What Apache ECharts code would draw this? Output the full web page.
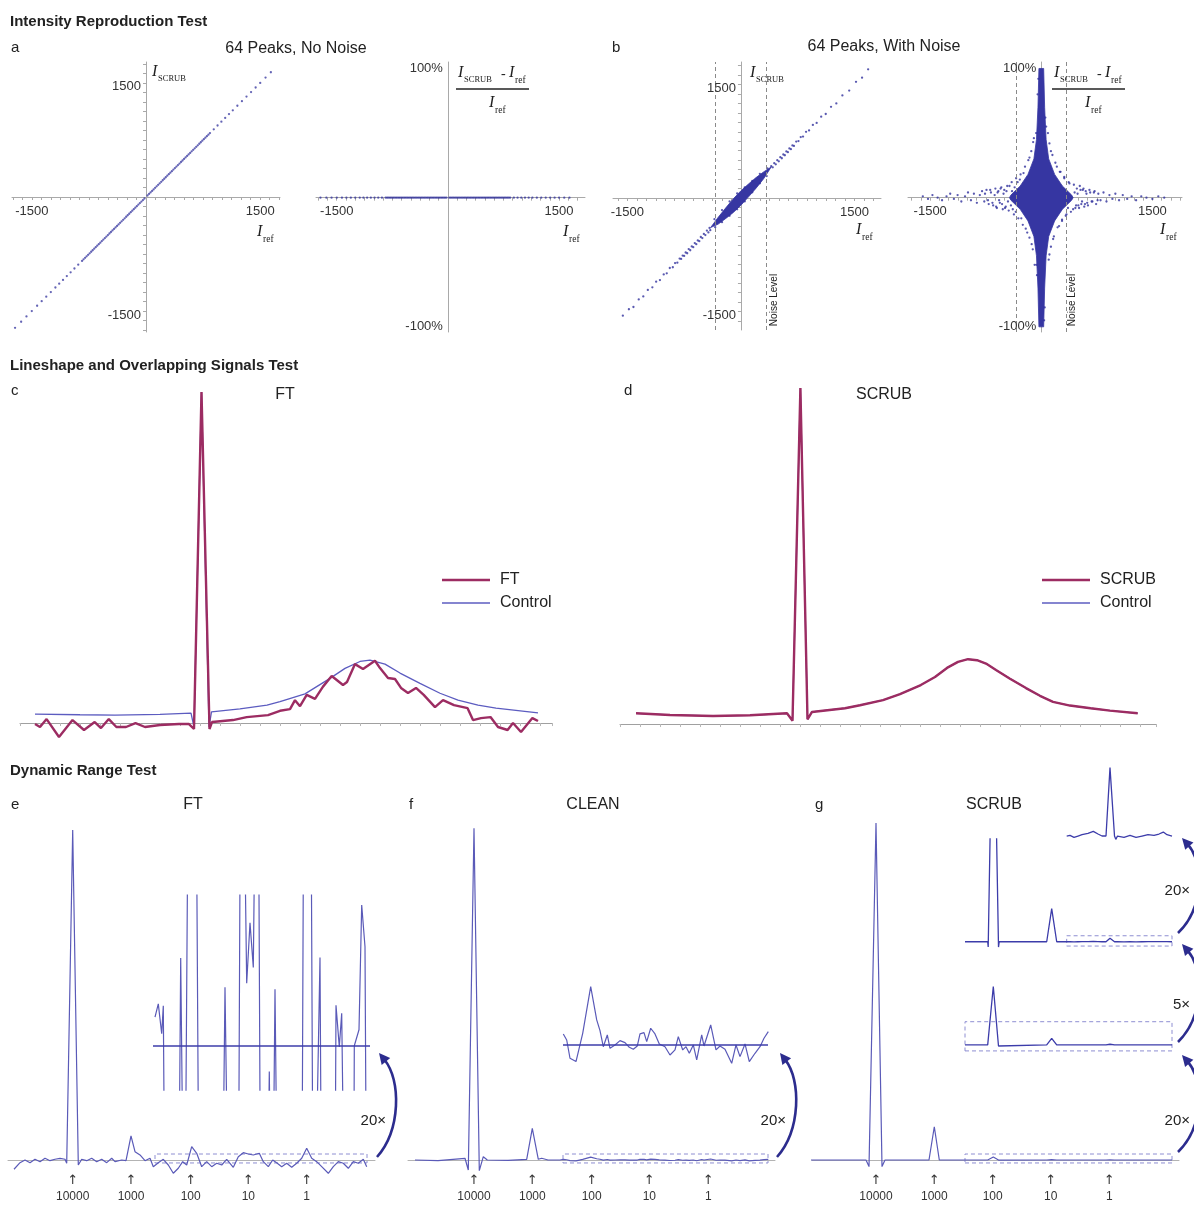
<!DOCTYPE html>
<html><head><meta charset="utf-8">
<script src="https://cdn.jsdelivr.net/npm/echarts@6.0.0/dist/echarts.min.js"></script>
<style>html,body{margin:0;padding:0;background:#fff}#c{width:1194px;height:1206px}</style>
</head><body><div id="c"></div>
<script>
// ---------------- DATA ----------------
// Panel a: 64 peaks, no noise — reference intensities and SCRUB intensities (identical)
const aRef = [-1720,-1640,-1570,-1500,-1430,-1370,-1310,-1250,-1190,-1140,-1090,-1040,-990,-940,-890,
 -840,-820,-800,-780,-760,-740,-720,-700,-680,-660,-640,-620,-600,-580,-560,-540,-520,-500,-480,-460,-440,-420,-400,-380,-360,-340,-320,-300,-280,-260,-240,-220,-200,-180,-160,-140,-120,-100,-80,-60,-40,-20,
 20,40,60,80,100,120,140,160,180,200,220,240,260,280,300,320,340,360,380,400,420,440,460,480,500,520,540,560,580,600,620,640,660,680,700,720,740,760,780,800,820,840,
 890,940,990,1040,1090,1140,1200,1260,1320,1380,1440,1500,1570,1640];
const aScrub = [-1720,-1640,-1570,-1500,-1430,-1370,-1310,-1250,-1190,-1140,-1090,-1040,-990,-940,-890,
 -840,-820,-800,-780,-760,-740,-720,-700,-680,-660,-640,-620,-600,-580,-560,-540,-520,-500,-480,-460,-440,-420,-400,-380,-360,-340,-320,-300,-280,-260,-240,-220,-200,-180,-160,-140,-120,-100,-80,-60,-40,-20,
 20,40,60,80,100,120,140,160,180,200,220,240,260,280,300,320,340,360,380,400,420,440,460,480,500,520,540,560,580,600,620,640,660,680,700,720,740,760,780,800,820,840,
 890,940,990,1040,1090,1140,1200,1260,1320,1380,1440,1500,1570,1640];
const axisTickLabels = [-1500, 1500];
const pctTickLabels = [-100, 100];

// Panel b (left): dense core outline (Iref, ISCRUB) and sparse points
const bCoreRef   = [-400,-300,-200,-100,0,100,200,300,400,300,200,100,0,-100,-200,-300];
const bCoreScrub = [-390,-255,-130,-10,95,185,270,345,410,255,130,15,-95,-190,-270,-345];
const bSparse = [[-1700,-1720],[-1560,-1555],[-1480,-1470],[-1420,-1440],[-1350,-1340],[-1290,-1300],[-1230,-1215],[-1170,-1180],[-1120,-1105],[-1070,-1085],[-1020,-1010],[-980,-995],[-940,-925],[-900,-915],[-870,-860],[-840,-855],[-810,-800],[-790,-805],[-770,-760],[-750,-765],[-730,-720],[-710,-730],[-690,-675],[-670,-690],[-650,-640],[-630,-650],[-610,-595],[-590,-610],[-570,-560],[-550,-570],[-530,-515],[-510,-530],[-490,-475],[-470,-490],[-450,-430],[-430,-455],[-415,-395],[-405,-425],
 [400,420],[420,405],[440,460],[460,445],[480,500],[500,485],[520,540],[540,525],[560,575],[580,565],[600,615],[620,605],[640,655],[660,645],[680,695],[700,688],[730,745],[760,752],[790,805],[820,812],[860,875],[900,893],[950,965],[1000,992],[1060,1075],[1120,1110],[1190,1205],[1260,1250],[1340,1355],[1430,1420],[1520,1535],[1600,1590],[1680,1700],
 [-350,-280],[-250,-160],[-150,-45],[-50,60],[50,140],[150,225],[250,320],[350,390],[-340,-385],[-250,-320],[-150,-235],[-50,-150],[50,-45],[150,75],[250,195],[340,290]];
// Panel b (right): relative error (%) — dense core outline and sparse points
const bRCoreRef = [-32,-45,-65,-100,-180,-285,-410,-430,-410,-285,-180,-100,-65,-45,-32,32,45,65,100,180,285,410,430,410,285,180,100,65,45,32];
const bRCoreErr = [100,70,45,30,18,9,2,0,-2,-9,-18,-30,-45,-70,-100,-100,-70,-45,-30,-18,-9,-2,0,2,9,18,30,45,70,100];
const bRSparse = [[-1600,1],[-1530,-1],[-1470,2],[-1400,0],[-1340,-2],[-1280,1],[-1230,3],[-1180,-1],[-1130,2],[-1080,-3],[-1030,1],[-990,4],[-950,-2],[-910,3],[-870,-4],[-830,2],[-800,5],[-770,-3],[-740,6],[-710,-5],[-680,4],[-650,-6],[-620,7],[-600,-8],[-580,5],[-560,-4],[-540,8],[-520,-9],[-500,6],[-480,-7],[-460,9],[-440,-10],
 [440,10],[460,-8],[480,7],[500,-6],[520,9],[540,-5],[560,6],[580,-7],[600,5],[620,-4],[650,6],[680,-3],[710,4],[740,-5],[770,3],[800,-2],[840,4],[880,-3],[920,2],[960,-1],[1000,3],[1050,-2],[1100,2],[1160,-1],[1220,1],[1280,-2],[1350,1],[1420,0],[1500,-1],[1580,1],[1660,0],
 [-400,12],[-370,-13],[-340,15],[-310,-16],[-280,18],[-250,-21],[-220,24],[-190,-27],[-160,31],[-130,-36],[-110,43],[-90,-52],[90,50],[110,-44],[130,36],[160,-32],[190,27],[220,-23],[250,20],[280,-17],[310,15],[340,-13],[370,12],[400,-11],
 [-760,3],[-720,-2],[-690,6],[-660,-4],[-630,2],[-610,-7],[-590,4],[-570,-2],[-550,7],[-530,-5],[-510,3],[-490,-8],[-470,5],[-450,-3],[-430,9],[-410,-6],[-395,5],[-385,-9],[-360,8],[-345,-11],[-320,12],[-290,14],[-270,-16],[-240,19],[-210,-24],[-175,29],[-160,-31],[-135,36],[-115,-40],[-100,46],
 [430,-9],[450,4],[470,-6],[490,3],[510,-8],[530,6],[550,-3],[570,7],[590,-5],[610,3],[630,-6],[660,4],[690,-3],[720,5],[760,-2],[360,-8],[380,11],[330,-14],[310,16],[280,-18],[260,20],[240,-22],[210,24],[170,-30],[150,33],[130,-38],[110,42],[100,-48],
 [-50,80],[46,-85],[55,62],[-58,-60],[66,55],[-70,50],[-66,-52],[-40,92],[38,-95]];
const bNoise = 340;

// Panel c: FT and Control (x = channel, y = % of tallest peak)
const cFT = [[15,-0.3],[20,-1.2],[26.6,1.2],[39,-4.2],[52.5,0.9],[64,-2.1],[74.7,0.3],[81,-1.5],[88.8,1.2],[96.4,-1.2],[106,-1.2],[115.5,0],[125,-1.2],[140,-0.6],[159,-0.3],[169,-0.3],[174,-1.8],[181.5,100],[189.5,-1.8],[192,0.3],[195,0.4],[213,0.9],[226.7,1.8],[248,2.4],[260,3.7],[270,4.2],[275,6.9],[280,5.1],[286.7,8.5],[295,7.3],[303,11.0],[311.7,14.2],[323,11.5],[327,12.4],[335,17.8],[343,16.3],[355,18.8],[360,16.6],[368,13.6],[375,13.3],[381,10.6],[388,9.1],[396,10.6],[403.7,8.5],[415,4.8],[423,6.9],[434,5.4],[447.6,4.5],[453,0.9],[461,1.5],[470.5,1.8],[478,-1.2],[487.6,-2.1],[493,0],[501,-2.7],[512.4,1.5],[518,0.6]];
const cControl = [[15,2.7],[60,2.5],[95,2.4],[140,2.6],[171,3.0],[174,-1.2],[181.5,100],[189,-1.2],[191.5,3.4],[220,4.3],[247,5.4],[260,6.5],[285,8.8],[310,13.5],[325,16.5],[340,18.6],[350,19.0],[365,17.8],[380,15.1],[400,12.0],[420,9.0],[438,6.9],[458,5.4],[476,4.5],[518,3.1]];
// Panel d: SCRUB and Control
const dScrub = [[16,3.2],[50,2.7],[93,2.4],[130,2.6],[167,3.2],[172.5,1.0],[180.4,100],[187.5,1.4],[192,3.6],[225,4.7],[240,5.6],[263,7.1],[280,8.9],[300.8,11.6],[315,14.0],[327,16.7],[338,18.5],[348,19.3],[357,19.0],[366,18.0],[376,16.1],[390,13.5],[406,10.7],[420,8.4],[433,6.6],[450,5.5],[470.6,4.7],[490,4.0],[517.7,3.2]];
const dControl = [[16,3.2],[50,2.7],[93,2.4],[130,2.6],[167,3.2],[172.5,1.0],[180.4,100],[187.5,1.4],[192,3.6],[225,4.7],[240,5.6],[263,7.1],[280,8.9],[300.8,11.6],[315,14.0],[327,16.7],[338,18.5],[348,19.3],[357,19.0],[366,18.0],[376,16.1],[390,13.5],[406,10.7],[420,8.4],[433,6.6],[450,5.5],[470.6,4.7],[490,4.0],[517.7,3.2]];

// Dynamic range panels (x = channel, y = intensity)
const peakLabels = ['10000','1000','100','10','1'];
const ePeakPos = [64.7,123,182.7,240.3,298.7];
const fPeakPos = [66,124.3,183.7,241.3,300.3];
const gPeakPos = [64,122.3,180.7,238.7,297.3];
const eFT = [[6,-280],[12,-81],[17,0],[22,-81],[27,21],[32,-51],[37,51],[42,-21],[47,21],[52,51],[57,21],[58.7,-99],[64.7,9940],[70.3,-151],[73.7,21],[78.7,-21],[83.7,51],[88.7,-51],[93.7,21],[98.7,-81],[103.7,51],[107,-51],[113.7,0],[118,-21],[123,723],[127,250],[132,151],[137,-21],[142,51],[145.3,-202],[150.3,-81],[155.3,21],[160.3,-151],[165.3,-401],[170.3,-250],[174.7,-51],[178.7,-151],[183.7,401],[188.7,202],[193.7,-202],[198.7,-51],[203.7,-202],[208.7,-99],[213.7,-151],[218.7,21],[225.3,-220],[230.3,99],[235.3,220],[240.3,181],[245.3,151],[251.3,202],[255.3,-51],[260.3,-202],[264.7,0],[269.3,-99],[273.7,-202],[278.7,-99],[283.7,-220],[288.7,-99],[293.7,51],[298.7,352],[303.7,51],[308.7,-51],[313.7,-202],[320.3,-401],[325.3,-202],[330.3,-51],[335.3,-99],[340.3,-250],[345.3,-51],[350.3,-99],[355.3,21],[358.7,-202]];
const eInset = [[147,43],[150.3,63],[153.7,18],[155.3,60],[157.5,-400],[170,-400],[172.7,132],[176.5,-400],[178.5,-400],[181.5,700],[187,700],[191.5,-400],[213.5,-400],[217,88],[221.5,-400],[230,-400],[233.3,700],[235.3,700],[238.7,94],[242,185],[245.3,118],[249.5,700],[251.3,700],[253,-400],[258.5,-400],[261.3,-39],[264,-400],[264.5,-400],[267,85],[270.5,-400],[293.5,-400],[296.5,700],[302,700],[305.5,-400],[306.5,-400],[312,133],[314,-400],[326.5,-400],[328,61],[331.3,-2],[333.7,49],[337.5,-400],[345.3,-400],[346.3,0],[351,24],[353.7,212],[357,149],[359,-400]];
const fHead = [[7,0],[30,-20],[57,51],[60.3,-301],[66,9990],[71.3,-322],[75.3,99],[79.3,0],[100,-10],[118.7,21],[124.3,955],[130.3,21],[133.7,51],[140,0],[152,0]];
const fTail = [[155.3,16.6],[158.7,7.5],[162,-20],[168,-25],[174.7,17.6],[182.7,87.8],[188.7,37.7],[192,21.5],[195.3,-2.6],[199.3,15.1],[202,-5],[207,0],[212,6.5],[217,3.5],[221.3,-3.5],[225.3,-6.5],[229.3,-1.5],[232,16.6],[236,18.5],[238.7,5],[242.7,25.2],[247,16.6],[251.3,1.5],[257,-2.6],[262,-15.1],[267,-7.5],[270.3,12.5],[274.7,-7.5],[278,-2.6],[281.3,-12.5],[285.3,0],[288.7,-22.6],[293.7,15.1],[296,-1.5],[302.7,30.1],[308,-7.5],[312,-1.5],[317,-6.5],[323.7,-27.6],[328,0],[332,-17.6],[337,1.5],[341.3,-25],[347,-12.5],[352,-2.6],[356,10.1],[360.3,20]];
const gSCRUB = [[-2,0],[54,0],[57,-200],[64,10150],[70,-200],[73,0],[117,0],[122.3,1000],[127.3,0],[153,0],[175.7,0],[176.2,-1.6],[181.3,88],[186.5,-1.6],[187.2,0],[234.7,0],[239.7,10],[244.7,0],[254.7,0],[258,0.01],[262,-0.02],[266,0],[270,0.02],[276,0.04],[281.3,0.07],[286,0.03],[290,0],[294,0],[298,1.03],[302.5,0],[303.8,-0.05],[305.5,0],[312,-0.02],[318,0.01],[324,-0.02],[330,0],[336,0.02],[342,0.01],[347,0.03],[351.3,0.06],[355,0.02],[360,0]];

// ---------------- STYLE ----------------
const FONT = '"Liberation Sans", Arial, Helvetica, sans-serif';
const SERIF = '"Liberation Serif", "DejaVu Serif", serif';
const AXC = '#a9a9a9';
const DOT = '#30309c';
const MAROON = '#9c2c62';
const CTRL = '#5c5cc0';
const SPEC = '#5a5ab8';
const BASE = '#3c3caa';
const DASH = '#8e8ed2';

function range(a,b,s){const r=[];for(let v=a;v<=b+1e-9;v+=s)r.push(Math.round(v*100)/100);return r;}

const grids = [
  {left:12,  top:62,  width:268, height:270},   //0 a-left
  {left:316, top:62,  width:269, height:270},   //1 a-right
  {left:613, top:62,  width:268, height:268},   //2 b-left
  {left:908, top:62,  width:274, height:270},   //3 b-right
  {left:20,  top:392, width:532, height:350.9}, //4 c
  {left:620, top:388, width:536, height:356.2}, //5 d
  {left:8,   top:814.7, width:367, height:365.2}, //6 e
  {left:8,   top:895, width:367, height:195.2}, //7 e inset
  {left:408, top:814.7, width:367, height:365.2}, //8 f
  {left:408, top:965.3, width:367, height:119.5}, //9 f inset
  {left:812, top:814.7, width:367, height:365.2}, //10 g
  {left:812, top:979.9, width:367, height:73},    //11 g inset 1 (20x)
  {left:812, top:838.8, width:367, height:112.9}, //12 g inset 2 (5x)
  {left:812, top:763,   width:367, height:86.3}   //13 g inset 3 (20x)
].map(g=>Object.assign({containLabel:false, outerBoundsMode:'none'}, g));

function scatAxis(gi, min, max, ticks){
  return {type:'value', gridIndex:gi, min, max, splitLine:{show:false},
    axisLine:{show:true, onZero:true, lineStyle:{color:AXC, width:1}},
    axisTick:{show:!!ticks, customValues:ticks||[], length:3, lineStyle:{color:AXC}},
    axisLabel:{show:false}};
}
function hidden(gi,min,max){ return {type:'value', gridIndex:gi, min, max, show:false, splitLine:{show:false}}; }
function specX(gi){
  return {type:'value', gridIndex:gi, min:0, max:367, splitLine:{show:false},
    axisLine:{show:true, onZero:true, lineStyle:{color:'#b3b3b3', width:1}}, axisTick:{show:false}, axisLabel:{show:false}};
}
function lineX(gi,max){
  return {type:'value', gridIndex:gi, min:0, max, interval:20, splitLine:{show:false},
    axisLine:{show:true, onZero:true, lineStyle:{color:'#a0a0a0', width:1}},
    axisTick:{show:true, length:3, lineStyle:{color:'#b8b8b8'}}, axisLabel:{show:false}};
}

const xAxis = [
  scatAxis(0,-1760,1760,range(-1750,1750,125)),
  scatAxis(1,-1780,1850,range(-1750,1750,125)),
  scatAxis(2,-1690,1850,range(-1625,1750,125)),
  scatAxis(3,-1800,1900,range(-1750,1875,125)),
  lineX(4,532), lineX(5,536),
  specX(6), hidden(7,0,367),
  specX(8), hidden(9,0,367),
  specX(10), hidden(11,0,367), hidden(12,0,367), hidden(13,0,367)
];
const yAxis = [
  scatAxis(0,-1775,1775,range(-1750,1750,125)),
  scatAxis(1,-104,105,null),
  scatAxis(2,-1744,1797,range(-1625,1750,125)),
  scatAxis(3,-104,105,null),
  hidden(4,-6,100), hidden(5,-6,100),
  hidden(6,-600,10400), hidden(7,-67,227),
  hidden(8,-600,10400), hidden(9,-60,120),
  hidden(10,-600,10400), hidden(11,-12,98), hidden(12,-3,31), hidden(13,-0.2,1.1)
];

function polygonSeries(xs, ys, gi, color){
  return {type:'custom', coordinateSystem:'cartesian2d', xAxisIndex:gi, yAxisIndex:gi, silent:true, clip:true, z:2,
    data: xs.map((x,i)=>[x, ys[i]]), encode:{x:0, y:1},
    renderItem: function(params, api){
      if (params.dataIndex !== 0) return null;
      const pts = xs.map((x,i)=>api.coord([x, ys[i]]));
      return {type:'polygon', shape:{points:pts}, style:{fill:color, stroke:color, lineWidth:0.8}};
    }};
}
function spec(gi, data, extra){
  return Object.assign({type:'line', xAxisIndex:gi, yAxisIndex:gi, data, symbol:'none', showSymbol:false, clip:true, silent:true,
    lineStyle:{color:SPEC, width:1.2}, itemStyle:{color:SPEC}, z:3}, extra||{});
}
function box(x1,x2,y1,y2){
  return {silent:true, label:{show:false}, itemStyle:{color:'rgba(0,0,0,0)', borderColor:DASH, borderWidth:1, borderType:[4,3]},
    data:[[{coord:[x1,y1]},{coord:[x2,y2]}]]};
}
function baseLine(x1,x2){
  return {silent:true, symbol:['none','none'], label:{show:false}, lineStyle:{color:BASE, width:1.6, type:'solid'},
    data:[[{coord:[x1,0]},{coord:[x2,0]}]]};
}
const noiseMark = {silent:true, symbol:['none','none'], label:{show:false}, lineStyle:{color:'#8a8a8a', width:1, type:[4,3]},
  data:[{xAxis:-bNoise},{xAxis:bNoise}]};

const series = [
  {type:'scatter', xAxisIndex:0, yAxisIndex:0, data:aRef.map((r,i)=>[r,aScrub[i]]), symbolSize:2.3, itemStyle:{color:DOT, opacity:0.75}, silent:true},
  {type:'scatter', xAxisIndex:1, yAxisIndex:1, data:aRef.map((r,i)=>[r,(aScrub[i]-r)/r*100]), symbolSize:2.3, itemStyle:{color:DOT, opacity:0.75}, silent:true},
  polygonSeries(bCoreRef, bCoreScrub, 2, '#3636a2'),
  {type:'scatter', xAxisIndex:2, yAxisIndex:2, data:bSparse, symbolSize:2.3, itemStyle:{color:DOT}, silent:true, markLine:noiseMark},
  polygonSeries(bRCoreRef, bRCoreErr, 3, '#3636a2'),
  {type:'scatter', xAxisIndex:3, yAxisIndex:3, data:bRSparse, symbolSize:2.3, itemStyle:{color:DOT}, silent:true, markLine:noiseMark},
  {type:'line', name:'Control', xAxisIndex:4, yAxisIndex:4, data:cControl, symbol:'none', lineStyle:{color:CTRL, width:1.3}, itemStyle:{color:CTRL}, z:3},
  {type:'line', name:'FT', xAxisIndex:4, yAxisIndex:4, data:cFT, symbol:'none', lineStyle:{color:MAROON, width:2.4}, itemStyle:{color:MAROON}, z:4},
  {type:'line', name:'Control', xAxisIndex:5, yAxisIndex:5, data:dControl, symbol:'none', lineStyle:{color:CTRL, width:1.3}, itemStyle:{color:CTRL}, z:3},
  {type:'line', name:'SCRUB', xAxisIndex:5, yAxisIndex:5, data:dScrub, symbol:'none', lineStyle:{color:MAROON, width:2.4}, itemStyle:{color:MAROON}, z:4},
  spec(6, eFT, {markArea:box(147,359,-90,180)}),
  spec(7, eInset, {markLine:baseLine(145,362)}),
  spec(8, fHead.concat(fTail), {markArea:box(155,360,-90,180)}),
  spec(9, fTail, {markLine:baseLine(155,360)}),
  spec(10, gSCRUB, {markArea:box(153,360,-90,180)}),
  spec(11, gSCRUB.filter(p=>p[0]>=153), {markArea:box(153,360,-9,35), lineStyle:{color:BASE, width:1.3}}),
  spec(12, gSCRUB.filter(p=>p[0]>=153), {markArea:box(254.7,360,-1.3,1.8), lineStyle:{color:BASE, width:1.3}}),
  spec(13, gSCRUB.filter(p=>p[0]>=254.7), {lineStyle:{color:BASE, width:1.3}})
];

// ---------------- ANNOTATIONS ----------------
const G = [];
function txt(x,y,text,o){ o=o||{};
  G.push({type:'text', x, y, rotation:o.rot||0, z:100, silent:true,
    style:{text, font:o.font||('15px '+FONT), fill:o.fill||'#222', textAlign:o.align||'left', align:o.align||'left', textVerticalAlign:'middle', verticalAlign:'middle'}}); }
function ital(x,y,sub){
  txt(x,y,'I',{font:'italic 16px '+SERIF});
  txt(x+6,y+7,sub,{font:(sub==='SCRUB'?'8.5px ':'9.5px ')+SERIF});
}
function frac(x,y){
  ital(x,y,'SCRUB'); txt(x+43,y+1,'-',{font:'14px '+SERIF}); ital(x+51,y,'ref');
  G.push({type:'line', z:100, silent:true, shape:{x1:x-2,y1:y+16,x2:x+71,y2:y+16}, style:{stroke:'#222', lineWidth:1.6}});
  ital(x+31,y+30,'ref');
}
function arrow(x1,y1,x2,y2,cx){
  const d=(y1-y2)*0.26;
  const c2=[cx, y2+d];
  const dx=x2-c2[0], dy=y2-c2[1], L=Math.hypot(dx,dy), ux=dx/L, uy=dy/L;
  const hl=11, hw=5.5, bx=x2-ux*hl, by=y2-uy*hl;
  G.push({type:'bezierCurve', z:100, silent:true, shape:{x1,y1,x2:bx+ux*2,y2:by+uy*2,cpx1:cx,cpy1:y1-d,cpx2:c2[0],cpy2:c2[1]}, style:{stroke:'#2c2c8e', lineWidth:2.6, fill:null}});
  G.push({type:'polygon', z:100, silent:true, shape:{points:[[x2,y2],[bx-uy*hw,by+ux*hw],[bx+uy*hw,by-ux*hw]]}, style:{fill:'#2c2c8e'}});
}
const BOLD = 'bold 15px '+FONT, SUB = '16px '+FONT;
txt(10,22,'Intensity Reproduction Test',{font:BOLD});
txt(11,48,'a'); txt(296,49,'64 Peaks, No Noise',{font:SUB, align:'center'});
txt(612,48,'b'); txt(884,47,'64 Peaks, With Noise',{font:SUB, align:'center'});
txt(10,366,'Lineshape and Overlapping Signals Test',{font:BOLD});
txt(11,391,'c'); txt(285,395,'FT',{font:SUB, align:'center'});
txt(624,391,'d'); txt(884,395,'SCRUB',{font:SUB, align:'center'});
txt(10,771,'Dynamic Range Test',{font:BOLD});
txt(11,805,'e'); txt(193,805,'FT',{font:SUB, align:'center'});
txt(409,805,'f'); txt(593,805,'CLEAN',{font:SUB, align:'center'});
txt(815,805,'g'); txt(994,805,'SCRUB',{font:SUB, align:'center'});
ital(152,72,'SCRUB'); ital(257,232,'ref');
frac(458,73); ital(563,232,'ref');
ital(750,73,'SCRUB'); ital(856,230,'ref');
frac(1054,73); ital(1160,230,'ref');
txt(774,300,'Noise Level',{font:'10px '+FONT, align:'center', rot:Math.PI/2});
txt(1072,300,'Noise Level',{font:'10px '+FONT, align:'center', rot:Math.PI/2});
arrow(377,1157,379,1053,401); txt(386,1121,'20×',{align:'right'});
arrow(777,1157,780,1053,801); txt(786,1121,'20×',{align:'right'});
arrow(1178,1152,1182,1055,1204); txt(1190,1121,'20×',{align:'right'});
arrow(1178,1042,1182,944,1204);  txt(1190,1005,'5×',{align:'right'});
arrow(1178,933,1182,838,1204);   txt(1190,891,'20×',{align:'right'});

const legendBase = {orient:'vertical', itemWidth:48, itemHeight:14, itemGap:7, selectedMode:false, symbolKeepAspect:true,
  textStyle:{fontSize:16, color:'#222', fontFamily:FONT, padding:[0,0,0,5]}};
const thick = 'path://M0 0H48V2.4H0Z', thin = 'path://M0 0H48V1.3H0Z';

const chart = echarts.init(document.getElementById('c'), null, {renderer:'canvas'});
chart.setOption({
  animation:false, backgroundColor:'#fff',
  textStyle:{fontFamily:FONT},
  grid:grids, xAxis, yAxis, series,
  legend:[Object.assign({left:437, top:567, data:[{name:'FT', icon:thick},{name:'Control', icon:thin}]}, legendBase),
          Object.assign({left:1037, top:567, data:[{name:'SCRUB', icon:thick},{name:'Control', icon:thin}]}, legendBase)],
  graphic:{elements:G}
});

// Tick labels placed through each grid's own scales
const L = [];
function lab(x,y,text,align,size,fam){ L.push({type:'text', x, y, z:100, silent:true,
  style:{text, font:(size||13)+'px '+(fam||FONT), fill:'#333', textAlign:align, align:align, textVerticalAlign:'middle', verticalAlign:'middle'}}); }
[[0,false],[1,true],[2,false],[3,true]].forEach(([gi,pct])=>{
  axisTickLabels.forEach(v=>{ const p = chart.convertToPixel({gridIndex:gi},[v,0]); lab(p[0], p[1]+14, String(v), 'center'); });
  (pct?pctTickLabels:axisTickLabels).forEach(v=>{ const p = chart.convertToPixel({gridIndex:gi},[0,v]); lab(p[0]-5, p[1]+(pct?0:4), pct?(v+'%'):String(v), 'right'); });
});
[[6,ePeakPos],[8,fPeakPos],[10,gPeakPos]].forEach(([gi,pos])=>{
  pos.forEach((v,i)=>{ const p = chart.convertToPixel({gridIndex:gi},[v,0]);
    lab(p[0], p[1]+21, '↑', 'center', 13, '"DejaVu Sans", sans-serif'); lab(p[0], p[1]+37, peakLabels[i], 'center', 12); });
});
chart.setOption({graphic:{elements:G.concat(L)}});
</script></body></html>
